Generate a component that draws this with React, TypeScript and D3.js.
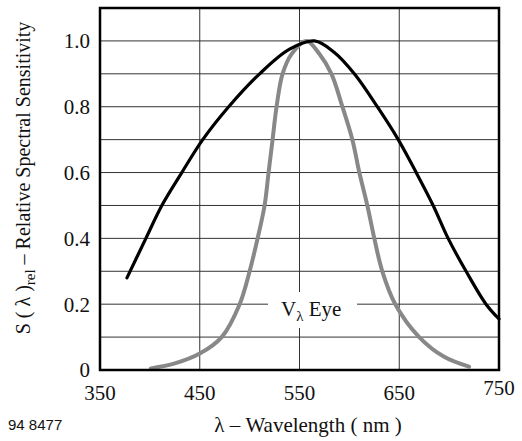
import React from "react";
import * as d3 from "d3";

const xTicks = [350, 450, 550, 650, 750];
const yTicks = [0, 0.2, 0.4, 0.6, 0.8, 1.0];
const yGrid = [0.1, 0.2, 0.3, 0.4, 0.5, 0.6, 0.7, 0.8, 0.9, 1.0];
const xGrid = [450, 550, 650];

const detectorNm = [377, 396, 412, 432, 453, 479, 510, 540, 565, 585, 605, 628, 649, 667, 684, 699, 717, 737, 750];
const detectorVal = [0.28, 0.40, 0.50, 0.60, 0.70, 0.80, 0.90, 0.975, 1.0, 0.965, 0.90, 0.80, 0.70, 0.60, 0.50, 0.40, 0.30, 0.20, 0.155];

const eyeNm = [401, 425, 450, 472, 490, 500, 508, 515, 519, 523, 527, 533, 542, 557, 570, 582, 593, 603, 610, 618, 625, 633, 646, 670, 695, 720];
const eyeVal = [0.005, 0.02, 0.05, 0.10, 0.20, 0.30, 0.40, 0.50, 0.60, 0.70, 0.80, 0.90, 0.96, 1.0, 0.96, 0.90, 0.80, 0.70, 0.60, 0.50, 0.40, 0.30, 0.20, 0.10, 0.04, 0.01];

const SERIF = "'Liberation Serif', 'DejaVu Serif', serif";

export default function App() {
  const W = 522, H = 441;
  const L = 100, R = 499, T = 8, B = 370;
  const x = d3.scaleLinear().domain([350, 750]).range([L, R]);
  const y = d3.scaleLinear().domain([0, 1.1]).range([B, T]);
  const line = d3.line<[number, number]>().x(d => x(d[0])).y(d => y(d[1])).curve(d3.curveCatmullRom.alpha(0.5));
  const det = line(detectorNm.map((n, i) => [n, detectorVal[i]]))!;
  const eye = line(eyeNm.map((n, i) => [n, eyeVal[i]]))!;
  const fs = 21;
  const ts = { fontFamily: SERIF };
  return (
    <svg width={W} height={H} style={{ position: "absolute", left: 0, top: 0, background: "#fff", fontFamily: SERIF }}>
      <rect x={0} y={0} width={W} height={H} fill="#fff" />
      {yGrid.map(v => (
        <line key={"yg" + v} x1={L} x2={R} y1={y(v)} y2={y(v)} stroke="#333" strokeWidth={1} />
      ))}
      {xGrid.map(v => (
        <line key={"xg" + v} x1={x(v)} x2={x(v)} y1={T} y2={B} stroke="#333" strokeWidth={1} />
      ))}
      <rect x={268} y={292} width={89} height={36} fill="#fff" />
      <text x={281} y={316} fontSize={fs} fill="#111" style={ts}>
        V<tspan fontSize={15} dy={5}>λ</tspan><tspan dy={-5}> Eye</tspan>
      </text>
      <path d={eye} fill="none" stroke="#888" strokeWidth={4} strokeLinecap="round" />
      <path d={det} fill="none" stroke="#000" strokeWidth={3.2} strokeLinecap="round" />
      <rect x={L} y={T} width={R - L} height={B - T} fill="none" stroke="#000" strokeWidth={2.5} />
      {yTicks.map(v => (
        <text key={"yt" + v} x={90} y={y(v)} dy="0.35em" textAnchor="end" fontSize={fs} fill="#111" style={ts}>
          {v === 0 ? "0" : v.toFixed(1)}
        </text>
      ))}
      {xTicks.map(v => (
        <text key={"xt" + v} x={x(v)} y={v === 750 ? 395 : 400} textAnchor="middle" fontSize={fs} fill="#111" style={ts}>
          {v}
        </text>
      ))}
      <text x={308} y={432} textAnchor="middle" fontSize={fs} fill="#111" style={ts}>λ – Wavelength ( nm )</text>
      <text transform="translate(30,178) rotate(-90)" textAnchor="middle" fontSize={20} fill="#111" style={ts}>
        S ( λ )<tspan fontSize={15} dy={5}>rel</tspan><tspan dy={-5}>{"  – Relative Spectral Sensitivity"}</tspan>
      </text>
      <text x={8} y={430} fontSize={15} fill="#111" style={{ fontFamily: "'Liberation Sans', Arial, sans-serif" }}>94 8477</text>
    </svg>
  );
}
